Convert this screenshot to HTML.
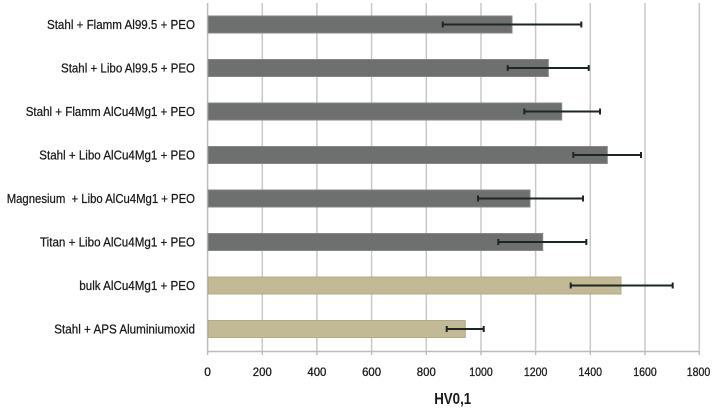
<!DOCTYPE html>
<html>
<head>
<meta charset="utf-8">
<style>
html,body{margin:0;padding:0;background:#fff;}
svg{display:block;}
text{font-family:"Liberation Sans",Arial,sans-serif;fill:#1a1a1a;}
</style>
</head>
<body>
<svg width="715" height="410" viewBox="0 0 715 410" xmlns="http://www.w3.org/2000/svg">
<rect width="715" height="410" fill="#fff"/>
<!-- gridlines -->
<g stroke="#c9c9c9" stroke-width="1.5">
<line x1="262.3" y1="3" x2="262.3" y2="352"/>
<line x1="316.9" y1="3" x2="316.9" y2="352"/>
<line x1="371.6" y1="3" x2="371.6" y2="352"/>
<line x1="426.3" y1="3" x2="426.3" y2="352"/>
<line x1="481" y1="3" x2="481" y2="352"/>
<line x1="535.6" y1="3" x2="535.6" y2="352"/>
<line x1="590.3" y1="3" x2="590.3" y2="352"/>
<line x1="645" y1="3" x2="645" y2="352"/>
<line x1="699.3" y1="3" x2="699.3" y2="352"/>
</g>
<!-- axes -->
<g stroke="#bdbdbd" stroke-width="1.5">
<line x1="207.6" y1="3" x2="207.6" y2="355"/>
<line x1="207.6" y1="351.5" x2="699.3" y2="351.5"/>
<line x1="262.3" y1="351" x2="262.3" y2="355"/>
<line x1="316.9" y1="351" x2="316.9" y2="355"/>
<line x1="371.6" y1="351" x2="371.6" y2="355"/>
<line x1="426.3" y1="351" x2="426.3" y2="355"/>
<line x1="481" y1="351" x2="481" y2="355"/>
<line x1="535.6" y1="351" x2="535.6" y2="355"/>
<line x1="590.3" y1="351" x2="590.3" y2="355"/>
<line x1="645" y1="351" x2="645" y2="355"/>
<line x1="699.3" y1="351" x2="699.3" y2="355"/>
</g>
<!-- bars -->
<g stroke-width="1">
<rect x="208.3" y="16" width="303.7" height="17" fill="#6e6f6f" stroke="#858686"/>
<rect x="208.3" y="59.5" width="340" height="17" fill="#6e6f6f" stroke="#858686"/>
<rect x="208.3" y="103" width="353.4" height="17" fill="#6e6f6f" stroke="#858686"/>
<rect x="208.3" y="146.5" width="399" height="17" fill="#6e6f6f" stroke="#858686"/>
<rect x="208.3" y="190" width="321.7" height="17" fill="#6e6f6f" stroke="#858686"/>
<rect x="208.3" y="233.5" width="334.4" height="17" fill="#6e6f6f" stroke="#858686"/>
<rect x="208.3" y="277" width="412.7" height="17" fill="#c2ba94" stroke="#b3ab84"/>
<rect x="208.3" y="320.5" width="257" height="17" fill="#c2ba94" stroke="#b3ab84"/>
</g>
<!-- error bars -->
<g stroke="#1c2626" stroke-width="2" fill="none">
<path d="M442.7 24.5H581.3M442.7 21.5V27.5M581.3 21.5V27.5"/>
<path d="M507.7 68H588.7M507.7 65V71M588.7 65V71"/>
<path d="M524.3 111.5H600M524.3 108.5V114.5M600 108.5V114.5"/>
<path d="M573.3 155H641M573.3 152V158M641 152V158"/>
<path d="M478 198.5H583M478 195.5V201.5M583 195.5V201.5"/>
<path d="M498.3 242H586.3M498.3 239V245M586.3 239V245"/>
<path d="M570.7 285.5H672.7M570.7 282.5V288.5M672.7 282.5V288.5"/>
<path d="M446.7 329H483.7M446.7 326V332M483.7 326V332"/>
</g>
<!-- category labels -->
<g font-size="13" text-anchor="end" stroke="#1a1a1a" stroke-width="0.25">
<text x="195" y="29" textLength="148" lengthAdjust="spacingAndGlyphs">Stahl + Flamm Al99.5 + PEO</text>
<text x="195" y="72.5" textLength="134" lengthAdjust="spacingAndGlyphs">Stahl + Libo Al99.5 + PEO</text>
<text x="195" y="116" textLength="169.3" lengthAdjust="spacingAndGlyphs">Stahl + Flamm AlCu4Mg1 + PEO</text>
<text x="195" y="159.5" textLength="155.7" lengthAdjust="spacingAndGlyphs">Stahl + Libo AlCu4Mg1 + PEO</text>
<text x="195" y="203" textLength="188.3" lengthAdjust="spacingAndGlyphs" xml:space="preserve">Magnesium  + Libo AlCu4Mg1 + PEO</text>
<text x="195" y="246.5" textLength="155" lengthAdjust="spacingAndGlyphs">Titan + Libo AlCu4Mg1 + PEO</text>
<text x="195" y="290" textLength="115.7" lengthAdjust="spacingAndGlyphs">bulk AlCu4Mg1 + PEO</text>
<text x="195" y="333.5" textLength="140.7" lengthAdjust="spacingAndGlyphs">Stahl + APS Aluminiumoxid</text>
</g>
<!-- tick labels -->
<g font-size="12" text-anchor="middle" stroke="#1a1a1a" stroke-width="0.3">
<text x="207.6" y="376">0</text>
<text x="262.3" y="376" textLength="19" lengthAdjust="spacingAndGlyphs">200</text>
<text x="316.9" y="376" textLength="19" lengthAdjust="spacingAndGlyphs">400</text>
<text x="371.6" y="376" textLength="19" lengthAdjust="spacingAndGlyphs">600</text>
<text x="426.3" y="376" textLength="19" lengthAdjust="spacingAndGlyphs">800</text>
<text x="481" y="376" textLength="23.5" lengthAdjust="spacingAndGlyphs">1000</text>
<text x="535.6" y="376" textLength="23.5" lengthAdjust="spacingAndGlyphs">1200</text>
<text x="590.3" y="376" textLength="23.5" lengthAdjust="spacingAndGlyphs">1400</text>
<text x="645" y="376" textLength="23.5" lengthAdjust="spacingAndGlyphs">1600</text>
<text x="698.5" y="376" textLength="23.5" lengthAdjust="spacingAndGlyphs">1800</text>
</g>
<text x="452.7" y="404" font-size="16" font-weight="bold" text-anchor="middle" textLength="37" lengthAdjust="spacingAndGlyphs">HV0,1</text>
</svg>
</body>
</html>
